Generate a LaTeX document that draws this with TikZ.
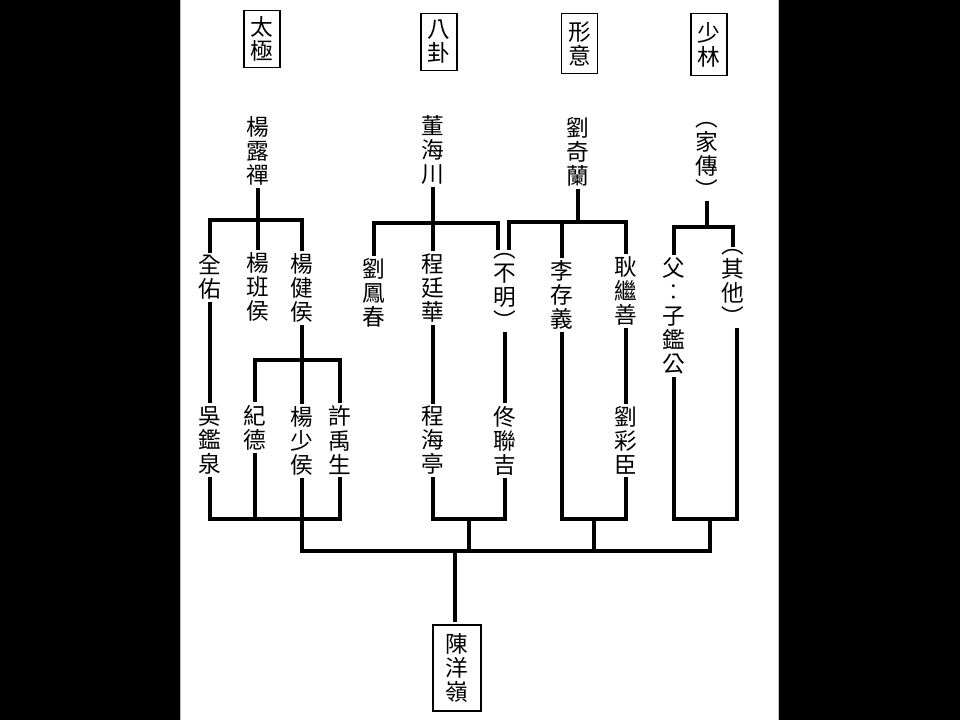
\documentclass[tikz,border=0pt]{standalone}
\usepackage{fontspec}
\newfontfamily\cjk{Noto Sans CJK TC}
\begin{document}
\begin{tikzpicture}[x=0.75pt,y=-0.75pt,
  nm/.style={font=\cjk\fontsize{17}{18}\selectfont, align=center, inner sep=0pt, outer sep=2pt, text=black},
  hd/.style={nm, draw=black, line width=0.9pt, minimum width=27pt, minimum height=43pt},
  ln/.style={line width=2.5pt, draw=black}]
% background and page
\useasboundingbox (0,0) rectangle (960,720);
\fill[black] (0,0) rectangle (960,720);
\fill[white] (180.5,0) rectangle (778.5,720);
\draw[black!25, line width=0.75pt] (180.5,0) -- (180.5,720) (778.5,0) -- (778.5,720);

% headers
\node[hd] (tj) at (262,39) {太\\極};
\node[hd] (bg) at (439,42) {八\\卦};
\node[hd, minimum height=44.5pt] (xy) at (579.5,43.5) {形\\意};
\node[hd, minimum height=46pt] (sl) at (709,44.5) {少\\林};

% level 1
\node[nm] (yld) at (258,151) {楊\\露\\禪};
\node[nm] (dhc) at (433,150) {董\\海\\川};
\node[nm] (lql) at (578,152) {劉\\奇\\蘭};
\node[nm] (jc)  at (707,160) {︵\\家\\傳\\︶};

% level 2
\node[nm] (qy)  at (210,277.5) {全\\佑};
\node[nm] (ybh) at (258,287) {楊\\班\\侯};
\node[nm] (yjh) at (302,288) {楊\\健\\侯};
\node[nm] (lfc) at (374,293) {劉\\鳳\\春};
\node[nm] (ctw) at (433,288) {程\\廷\\華};
\node[nm] (bm)  at (505,291) {︵\\不\\明\\︶};
\node[nm] (lcy) at (562,295) {李\\存\\義};
\node[nm] (gjs) at (626,291) {耿\\繼\\善};
\node[nm] (fz)  at (674,316) {父\\︰\\子\\鑑\\公};
\node[nm] (qt)  at (733,287.5) {︵\\其\\他\\︶};

% level 3
\node[nm] (wjq) at (210,440) {吳\\鑑\\泉};
\node[nm] (jd)  at (255,427.5) {紀\\德};
\node[nm] (ysh) at (302,441) {楊\\少\\侯};
\node[nm] (xys) at (340,440) {許\\禹\\生};
\node[nm] (cht) at (433,440.5) {程\\海\\亭};
\node[nm] (tlj) at (505,440.5) {佟\\聯\\吉};
\node[nm] (lcc) at (626,440.5) {劉\\彩\\臣};

% final
\node[hd, minimum width=36pt, minimum height=64.5pt] (cyl) at (457,668) {陳\\洋\\嶺};

% junction coordinates
\coordinate (a1) at (258,220);
\coordinate (b1) at (433,223);
\coordinate (c1) at (578,222);
\coordinate (d1) at (707,227);
\coordinate (e1) at (302,360);
\coordinate (f1) at (302,519);
\coordinate (f2) at (469,519);
\coordinate (f3) at (594,519);
\coordinate (f4) at (710,519);
\coordinate (m0) at (455,551);

% taiji
\draw[ln] (yld.south) -- (a1);
\draw[ln] (qy.north) |- (a1);
\draw[ln] (ybh.north) -- (a1);
\draw[ln] (yjh.north) |- (a1);
% bagua
\draw[ln] (dhc.south) -- (b1);
\draw[ln] (lfc.north) |- (b1);
\draw[ln] (ctw.north) -- (b1);
\draw[ln] ([xshift=-5.25pt]bm.north) |- (b1);
% xingyi
\draw[ln] (lql.south) -- (c1);
\draw[ln] ([xshift=3pt]bm.north) |- (c1);
\draw[ln] (lcy.north) |- (c1);
\draw[ln] (gjs.north) |- (c1);
% shaolin
\draw[ln] (jc.south) -- (d1);
\draw[ln] (fz.north) |- (d1);
\draw[ln] (qt.north) |- (d1);

% level 2 -> 3
\draw[ln] (qy.south) -- (wjq.north);
\draw[ln] (yjh.south) -- (e1);
\draw[ln] (jd.north) |- (e1);
\draw[ln] (ysh.north) -- (e1);
\draw[ln] (xys.north) |- (e1);
\draw[ln] (ctw.south) -- (cht.north);
\draw[ln] (bm.south) -- (tlj.north);
\draw[ln] (gjs.south) -- (lcc.north);

% lower buses
\draw[ln] (wjq.south) |- (f1);
\draw[ln] (jd.south) |- (f1);
\draw[ln] (ysh.south) -- (f1);
\draw[ln] (xys.south) |- (f1);
\draw[ln] (cht.south) |- (f2);
\draw[ln] (tlj.south) |- (f2);
\draw[ln] (lcy.south) |- (f3);
\draw[ln] (lcc.south) |- (f3);
\draw[ln] (fz.south) |- (f4);
\draw[ln] ([xshift=3pt]qt.south) |- (f4);

% main bus
\draw[ln] (f1) |- (m0);
\draw[ln] (f4) |- (m0);
\draw[ln] (f2) -- (f2 |- m0);
\draw[ln] (f3) -- (f3 |- m0);
\draw[ln] (m0) -- (m0 |- cyl.north);
\end{tikzpicture}
\end{document}
